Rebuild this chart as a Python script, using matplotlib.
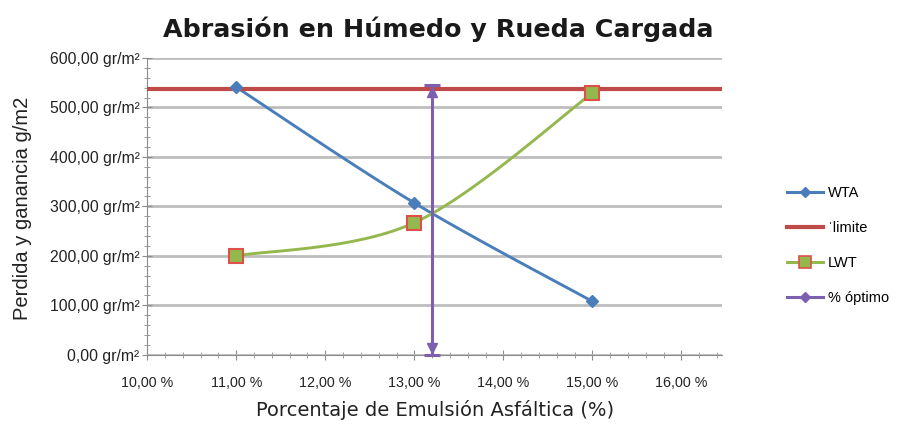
import numpy as np
import matplotlib
matplotlib.use('Agg')
import matplotlib.pyplot as plt
from matplotlib.ticker import MultipleLocator, FuncFormatter
from matplotlib.lines import Line2D

# porcentaje de emulsion (%) y perdidas (gr/m2)
pct = [11.0, 13.0, 15.0]
wta = [541, 307, 108]
lwt = [200, 267, 529]
limite = 537
optimo_x = 13.2
optimo_y = [0, 545]

def smooth(x, y, n=40):
    # Catmull-Rom para la linea suavizada
    x = np.asarray(x, float)
    y = np.asarray(y, float)
    px = np.r_[x[0], x, x[-1]]
    py = np.r_[y[0], y, y[-1]]
    xs, ys = [], []
    for i in range(1, len(px) - 2):
        t = np.linspace(0, 1, n)
        for p, out in ((px, xs), (py, ys)):
            p0, p1, p2, p3 = p[i - 1], p[i], p[i + 1], p[i + 2]
            out.append(0.5 * (2 * p1 + (-p0 + p2) * t
                              + (2 * p0 - 5 * p1 + 4 * p2 - p3) * t ** 2
                              + (-p0 + 3 * p1 - 3 * p2 + p3) * t ** 3))
    return np.concatenate(xs), np.concatenate(ys)

blue = '#4A7EBB'
red = '#BE4B48'
green = '#94B84E'
purple = '#7D5FB0'

fig = plt.figure(figsize=(9.03, 4.26), dpi=100)
ax = fig.add_axes([0.163, 0.167, 0.637, 0.697])

ax.set_xlim(10, 16.46)
ax.set_ylim(0, 600)
ax.yaxis.set_major_locator(MultipleLocator(100))
ax.yaxis.set_minor_locator(MultipleLocator(20))
ax.xaxis.set_major_locator(MultipleLocator(1))
ax.xaxis.set_minor_locator(MultipleLocator(0.2))
ax.yaxis.set_major_formatter(FuncFormatter(lambda v, p: f'{v:.2f}'.replace('.', ',') + ' gr/m²'))
ax.xaxis.set_major_formatter(FuncFormatter(lambda v, p: f'{v:.2f}'.replace('.', ',') + ' %'))
ax.grid(axis='y', color='#BDBDBD', lw=2)
ax.set_axisbelow(True)
for s in ('top', 'right'):
    ax.spines[s].set_visible(False)
for s in ('left', 'bottom'):
    ax.spines[s].set_color('#8C8C8C')
ax.tick_params(which='both', color='#8C8C8C', direction='inout', labelcolor='#222222')
ax.tick_params(which='major', length=7)
ax.tick_params(which='minor', length=4)
ax.tick_params(axis='y', pad=2, labelsize=11.3)
ax.tick_params(axis='x', pad=12, labelsize=10.3)

sx, sy = smooth(pct, wta)
ax.plot(sx, sy, color=blue, lw=2.1, zorder=3)
ax.plot(pct, wta, ls='none', marker='D', ms=6, color=blue, zorder=4)
ax.axhline(limite, color=red, lw=3, zorder=3)
sx, sy = smooth(pct, lwt)
ax.plot(sx, sy, color=green, lw=2.1, zorder=3)
ax.plot(pct, lwt, ls='none', marker='s', ms=10, mfc=green, mec='#E0504A', mew=1.5, zorder=4)

# linea del porcentaje optimo con topes en los extremos
ax.plot([optimo_x, optimo_x], optimo_y, color=purple, lw=2.2, zorder=5, clip_on=False)
ax.plot([optimo_x] * 2, optimo_y, ls='none', marker='_', ms=11, mew=2.2, color=purple,
        zorder=5, clip_on=False)
ax.plot([optimo_x], [optimo_y[1] - 14], ls='none', marker='^', ms=7, color=purple, zorder=5)
ax.plot([optimo_x], [optimo_y[0] + 14], ls='none', marker='v', ms=7, color=purple, zorder=5)

handles = [
    Line2D([], [], color=blue, lw=2.2, marker='D', ms=5),
    Line2D([], [], color=red, lw=3),
    Line2D([], [], color=green, lw=2.2, marker='s', ms=8, mfc=green, mec='#E0504A', mew=1.2),
    Line2D([], [], color=purple, lw=2.2, marker='D', ms=5),
]
leg = fig.legend(handles, ['WTA', 'ˈlimite', 'LWT', '% óptimo'], loc='upper left',
                 bbox_to_anchor=(0.857, 0.595), frameon=False, fontsize=10.5,
                 handlelength=2.5, labelspacing=1.45, handletextpad=0.3)
for t in leg.get_texts():
    t.set_family('Liberation Sans')

fig.text(0.485, 0.932, 'Abrasión en Húmedo y Rueda Cargada', ha='center', va='center',
         fontsize=18.3, fontweight='bold', color='#1A1A1A')
ax.set_xlabel('Porcentaje de Emulsión Asfáltica (%)', fontsize=14, color='#222222', labelpad=7)
fig.text(0.025, 0.51, 'Perdida y ganancia g/m2', rotation=90, ha='center', va='center',
         fontsize=14.5, color='#222222', family='Liberation Sans')
for lab in ax.get_xticklabels() + ax.get_yticklabels():
    lab.set_family('Liberation Sans')

fig.savefig('out.png', dpi=100)
